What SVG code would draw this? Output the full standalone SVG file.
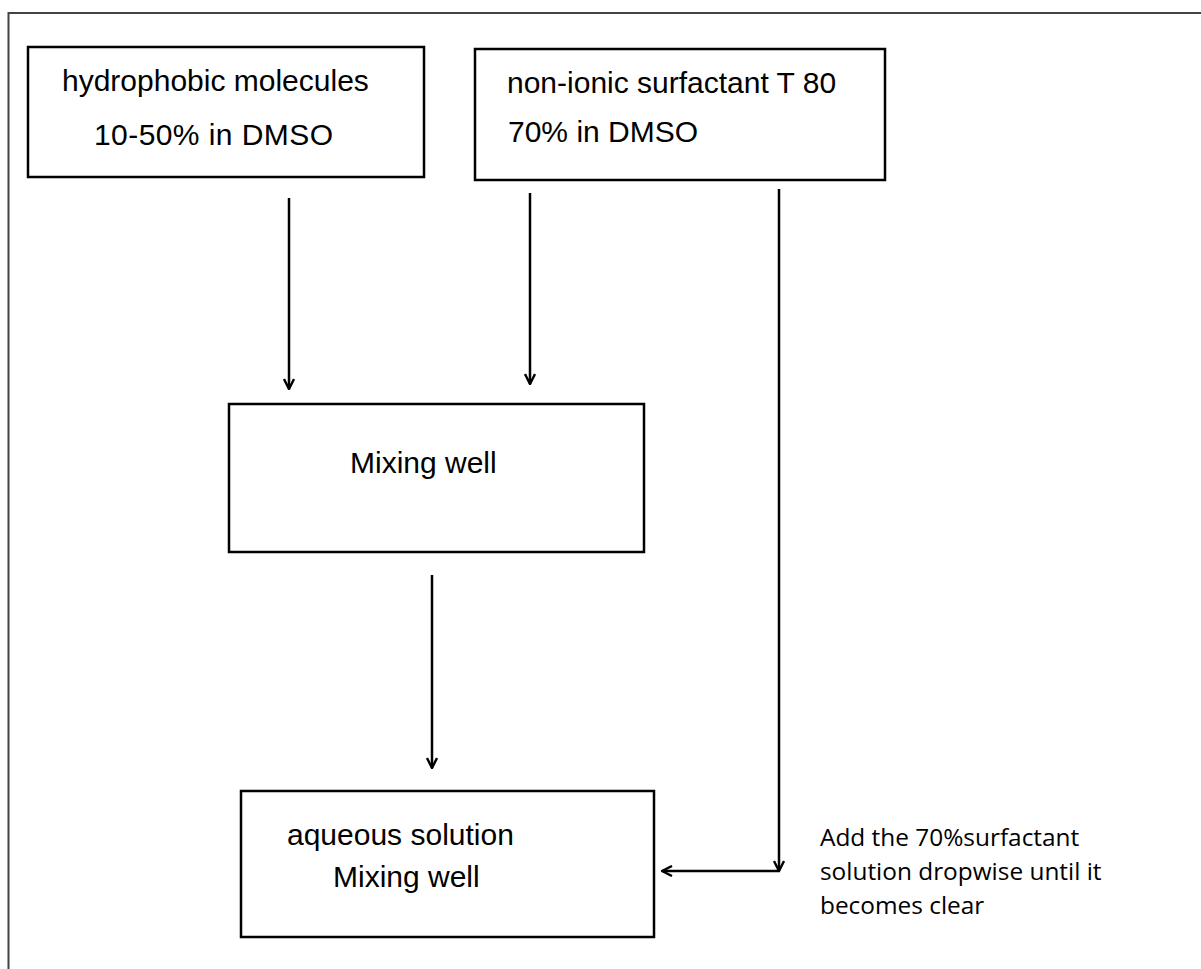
<svg xmlns="http://www.w3.org/2000/svg" width="1201" height="969" viewBox="0 0 1201 969">
<defs>
<style>
.box{fill:#fff;stroke:#000;stroke-width:2.5}
.t{font-family:"Liberation Sans",Arial,sans-serif;font-size:30px;fill:#000}
.note{font-family:"Open Sans","Noto Sans",sans-serif;font-size:24.4px;fill:#000}
.c{fill:none;stroke:#000;stroke-width:2.5}
</style>
<marker id="ah" viewBox="0 0 12 12" refX="11" refY="6" markerWidth="12" markerHeight="12" markerUnits="userSpaceOnUse" orient="auto">
<path d="M1,1 L11,6 L1,11" fill="none" stroke="#000" stroke-width="2.4"/>
</marker>
</defs>
<rect width="1201" height="969" fill="#fff"/>
<path d="M8.5,969 V13 H1201" fill="none" stroke="#444" stroke-width="2"/>
<g id="connectors">
<line class="c" x1="289" y1="198" x2="289" y2="389" marker-end="url(#ah)"/>
<line class="c" x1="530" y1="193" x2="530" y2="384" marker-end="url(#ah)"/>
<line class="c" x1="432" y1="575" x2="432" y2="768" marker-end="url(#ah)"/>
<line class="c" x1="779" y1="189" x2="779" y2="871" marker-end="url(#ah)"/>
<line class="c" x1="780" y1="871" x2="662" y2="871" marker-end="url(#ah)"/>
</g>
<g id="node-hydrophobic">
<rect class="box" x="28" y="47" width="396" height="130"/>
<text class="t" x="62" y="91">hydrophobic molecules</text>
<text class="t" x="94" y="145" textLength="239">10-50% in DMSO</text>
</g>
<g id="node-surfactant">
<rect class="box" x="475" y="49" width="410" height="131"/>
<text class="t" x="507" y="93">non-ionic surfactant T 80</text>
<text class="t" x="508" y="142">70% in DMSO</text>
</g>
<g id="node-mixing">
<rect class="box" x="229" y="404" width="415" height="148"/>
<text class="t" x="350" y="473">Mixing well</text>
</g>
<g id="node-aqueous">
<rect class="box" x="241" y="791" width="413" height="146"/>
<text class="t" x="287" y="845">aqueous solution</text>
<text class="t" x="333" y="887">Mixing well</text>
</g>
<g id="note">
<text class="note" x="820" y="846">Add the 70%surfactant</text>
<text class="note" x="820" y="880">solution dropwise until it</text>
<text class="note" x="820" y="914">becomes clear</text>
</g>
</svg>
